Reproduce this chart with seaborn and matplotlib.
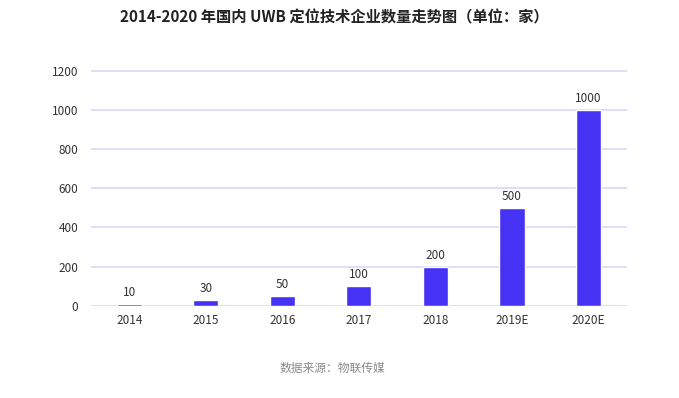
import matplotlib
matplotlib.use("Agg")
import matplotlib.pyplot as plt
import seaborn as sns
import pandas as pd

# data
years = ["2014", "2015", "2016", "2017", "2018", "2019E", "2020E"]
counts = [10, 30, 50, 100, 200, 500, 1000]
yticks = [0, 200, 400, 600, 800, 1000, 1200]

title = "2014-2020 年国内 UWB 定位技术企业数量走势图（单位：家）"
source = "数据来源：物联传媒"

sns.set_style("white")
plt.rcParams['font.family'] = ['Noto Sans CJK SC', 'DejaVu Sans']

df = pd.DataFrame({"year": years, "count": counts})

fig = plt.figure(figsize=(6.79, 3.98), dpi=100)
ax = fig.add_axes([0.134, 0.232, 0.789, 0.592])

sns.barplot(data=df, x="year", y="count", color="#4632F5", saturation=1,
            width=0.33, ax=ax, zorder=3)

ax.set_ylim(0, 1205)
ax.set_yticks(yticks)
ax.set_xlim(-0.5, len(years) - 0.5)
ax.yaxis.grid(True, color="#DEDAF9", linewidth=1.3, zorder=0)
ax.set_axisbelow(True)
for s in ax.spines.values():
    s.set_visible(False)
ax.tick_params(axis="both", length=0, labelsize=8.5, colors="#333333")
ax.tick_params(axis="y", pad=9)
ax.tick_params(axis="x", pad=6)
ax.set_xlabel("")
ax.set_ylabel("")

# value labels on top of bars
for i, v in enumerate(counts):
    ax.text(i, v + 25, str(v), ha="center", va="bottom", fontsize=8.5, color="#333333")

fig.text(0.493, 0.955, title, ha="center", va="center", fontsize=11,
         fontweight="heavy", color="#222222")
fig.text(0.49, 0.075, source, ha="center", va="center", fontsize=8.5,
         style="italic", color="#8a8a8a")

plt.savefig("out.png", dpi=100)
